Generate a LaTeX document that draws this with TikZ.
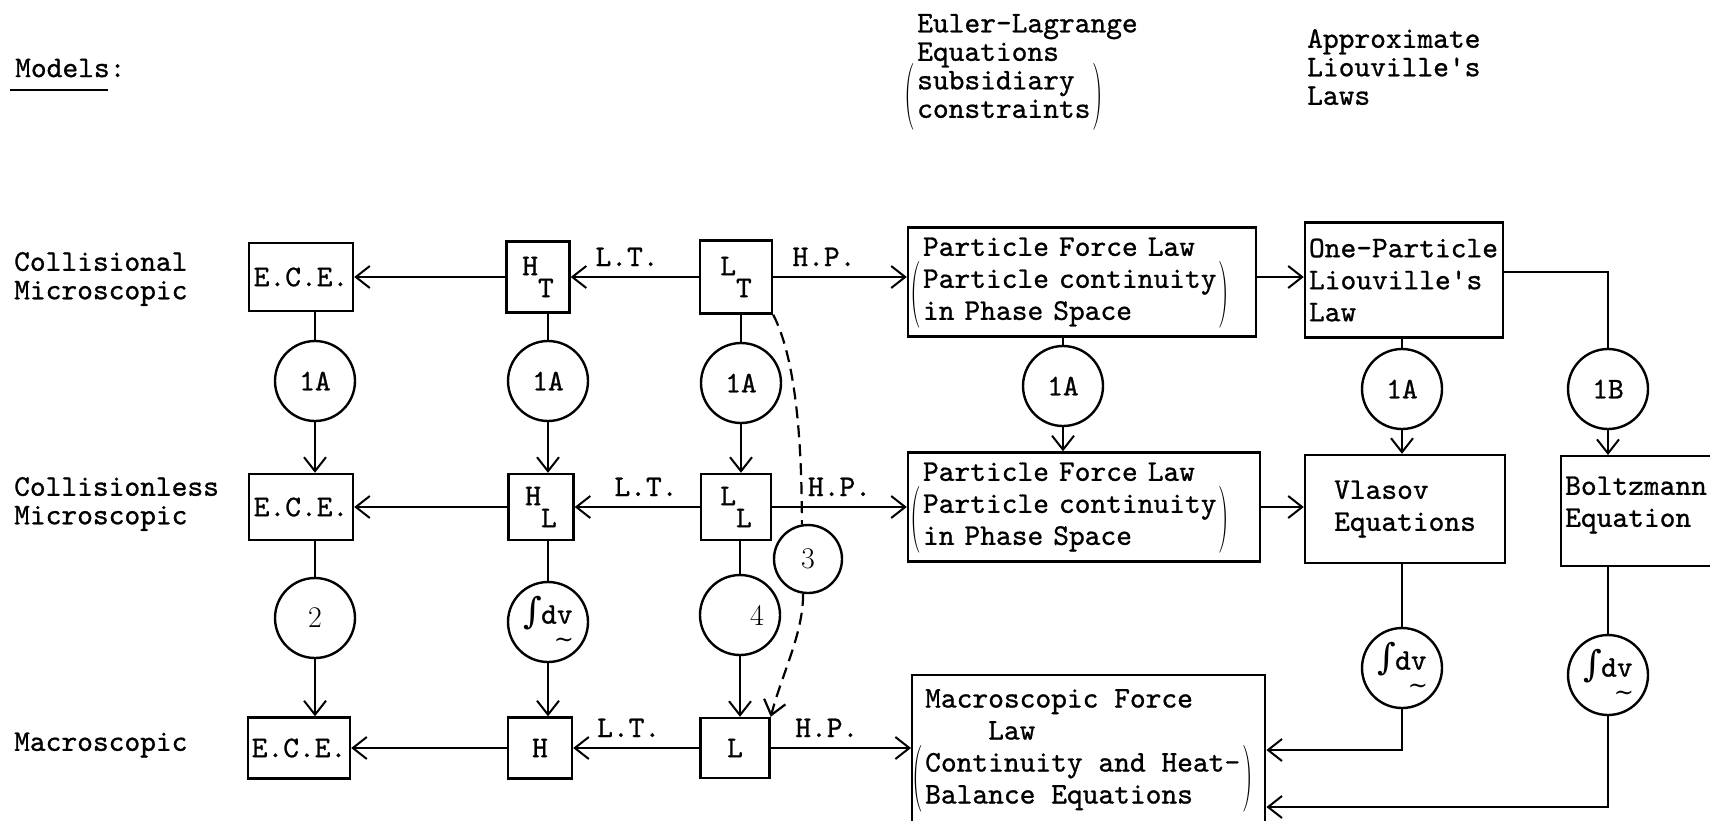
\documentclass[tikz,border=0pt]{standalone}
\usepackage{fontspec}
\usepackage{graphicx}
\usetikzlibrary{arrows.meta,calc}
\setmonofont{lmmono10-regular.otf}[FakeBold=0.9]
\newfontfamily\symfam{DejaVu Serif}
\newcommand{\tallopen}[1]{\leavevmode\llap{\smash{\raisebox{#1}{\scalebox{1}[2.23]{\rmfamily(}}}\kern2pt}}
\newcommand{\tallclose}[1]{\rlap{\kern2pt\smash{\raisebox{#1}{\scalebox{1}[2.23]{\rmfamily)}}}}}
\newcommand{\intdv}{{\symfam\fontsize{36}{36}\selectfont ∫}\kern-1pt d\rlap{\raisebox{-24pt}{\kern-3pt{\symfam\fontsize{24}{24}\selectfont ∼}}}v}
\tikzset{
  base/.style={font=\fontsize{30}{32}\selectfont\ttfamily},
  tight/.style={font=\fontsize{30}{28.5}\selectfont\ttfamily},
  box/.style={draw, line width=2.4pt, inner sep=0pt, base},
  circ/.style={draw, circle, line width=2.4pt, minimum size=80pt, inner sep=0pt, base},
  lab/.style={base, inner sep=0pt, align=left},
  tag/.style={base, inner sep=0pt},
  ln/.style={line width=2pt},
  arr/.style={line width=2pt, -{Straight Barb[length=14pt,width=22pt]}},
  dsh/.style={line width=2.2pt, dash pattern=on 12pt off 7pt}
}
\begin{document}
\begin{tikzpicture}[x=1pt,y=-1pt]
\useasboundingbox (0,0) rectangle (1710,820);

% left labels
\node[lab, anchor=west] (models) at (15,68) {Models:};
\draw[line width=2pt] (10,90) -- (108,90);
\node[lab, tight, anchor=west] (r1) at (14,279) {Collisional\\Microscopic};
\node[lab, tight, anchor=west] (r2) at (14,504) {Collisionless\\Microscopic};
\node[lab, anchor=west] (r3) at (14,745) {Macroscopic};

% headers
\node[lab, tight, anchor=west] (el) at (917,66) {Euler-Lagrange\\Equations\\\tallopen{-24pt}subsidiary\\constraints\tallclose{4pt}};
\node[lab, tight, anchor=west] (al) at (1307,67) {Approximate\\Liouville's\\Laws};

% row 1
\node[box, minimum width=104, minimum height=68] (ece1) at (301,277) {E.C.E.};
\node[box, minimum width=63, minimum height=71] (ht) at (538,277) {H\raisebox{-22pt}{T}};
\node[box, minimum width=72, minimum height=73] (lt) at (736,277) {L\raisebox{-22pt}{T}};
\node[box, minimum width=348, minimum height=109, text width=318pt, inner xsep=15pt, align=left] (pf1) at (1082,282)
  {Particle Force Law\\\tallopen{-24pt}Particle continuity\tallclose{-24pt}\\in Phase Space};
\node[box, minimum width=198, minimum height=115, text width=190pt, inner xsep=4pt, align=left] (op) at (1404,280)
  {One-Particle\\Liouville's\\Law};

% row 2
\node[box, minimum width=104, minimum height=66] (ece2) at (301,507) {E.C.E.};
\node[box, minimum width=65, minimum height=66] (hl) at (541,507) {H\raisebox{-22pt}{L}};
\node[box, minimum width=70, minimum height=66] (ll) at (736,507) {L\raisebox{-22pt}{L}};
\node[box, minimum width=352, minimum height=109, text width=322pt, inner xsep=15pt, align=left] (pf2) at (1084,507)
  {Particle Force Law\\\tallopen{-24pt}Particle continuity\tallclose{-24pt}\\in Phase Space};
\node[box, minimum width=200, minimum height=108, align=left] (vl) at (1405,509) {Vlasov\\Equations};
\node[box, anchor=north west, minimum width=200, minimum height=110] (bz) at (1560,455) {};
\node[lab, anchor=west] (bztxt) at (1565,505) {Boltzmann\\Equation};

% row 3
\node[box, minimum width=102, minimum height=61] (ece3) at (299,748) {E.C.E.};
\node[box, minimum width=64, minimum height=61] (h) at (540,748) {H};
\node[box, minimum width=69, minimum height=60] (l) at (735,748) {L};
\node[box, anchor=north west, minimum width=353, minimum height=220] (mac) at (911,674) {};
\node[lab, anchor=north west] (mactxt) at (925,689)
  {Macroscopic Force\\\phantom{Macr}Law\\\tallopen{-24pt}Continuity and Heat-\tallclose{-24pt}\\Balance Equations};
\coordinate (m1) at ($(mac.north east)+(0,76)$);
\coordinate (m2) at ($(mac.north east)+(0,133)$);

% circles
\node[circ] (a1) at (315,381) {1A};
\node[circ] (a2) at (548,381) {1A};
\node[circ] (a3) at (741,383) {1A};
\node[circ] (a4) at (1063,386) {1A};
\node[circ] (a5) at (1402,389) {1A};
\node[circ] (b1) at (1608,389) {1B};
\node[circ] (n2) at (315,618) {\rmfamily 2};
\node[circ] (i1) at (548,622) {\intdv};
\node[circ] (n4) at (740,615) {\rmfamily\hspace*{34pt}4};
\node[circ, minimum size=68pt] (n3) at (808,559) {\rmfamily 3};
\node[circ] (i2) at (1402,668) {\intdv};
\node[circ] (i3) at (1608,675) {\intdv};

% row 1 connectors
\draw[arr] (ht.west) -- (ece1.east);
\draw[arr] (lt.west) -- node[tag, above=10pt, pos=0.56] {L.T.} (ht.east);
\draw[arr] (lt.east) -- node[tag, above=10pt, pos=0.38] {H.P.} (pf1.west |- lt.east);
\draw[arr] (pf1.east |- lt.east) -- (op.west |- lt.east);
\draw[ln] ([yshift=8pt]op.east) -| (b1.north);

% row 1 -> row 2
\draw[ln] (a1.north |- ece1.south) -- (a1.north);
\draw[arr] (a1.south) -- (a1.south |- ece2.north);
\draw[ln] (a2.north |- ht.south) -- (a2.north);
\draw[arr] (a2.south) -- (a2.south |- hl.north);
\draw[ln] (a3.north |- lt.south) -- (a3.north);
\draw[arr] (a3.south) -- (a3.south |- ll.north);
\draw[ln] (a4.north |- pf1.south) -- (a4.north);
\draw[arr] (a4.south) -- (a4.south |- pf2.north);
\draw[ln] (a5.north |- op.south) -- (a5.north);
\draw[arr] (a5.south) -- (a5.south |- vl.north);
\draw[arr] (b1.south) -- (b1.south |- bz.north);

% row 2 connectors
\draw[arr] (hl.west) -- (ece2.east);
\draw[arr] (ll.west) -- node[tag, above=10pt, pos=0.43] {L.T.} (hl.east);
\draw[arr] (ll.east) -- node[tag, above=10pt, pos=0.5] {H.P.} (pf2.west |- ll.east);
\draw[arr] (pf2.east |- ll.east) -- (vl.west |- ll.east);

% row 2 -> row 3
\draw[ln] (n2.north |- ece2.south) -- (n2.north);
\draw[arr] (n2.south) -- (n2.south |- ece3.north);
\draw[ln] (i1.north |- hl.south) -- (i1.north);
\draw[arr] (i1.south) -- (i1.south |- h.north);
\draw[ln] (n4.north |- ll.south) -- (n4.north);
\draw[arr] (n4.south) -- (n4.south |- l.north);
\draw[ln] (i2.north |- vl.south) -- (i2.north);
\draw[arr] (i2.south) |- (m1);
\draw[ln] (i3.north |- bz.south) -- (i3.north);
\draw[arr] (i3.south) |- (m2);

% dashed path 3
\draw[dsh] (lt.south east) .. controls +(18,35) and +(0,-110) .. (n3.100);
\draw[dsh, -{Straight Barb[length=14pt,width=22pt]}] (n3.262) .. controls +(0,40) and +(12,-45) .. (l.north east);

% row 3 connectors
\draw[arr] (h.west) -- (ece3.east);
\draw[arr] (l.west) -- node[tag, above=10pt, pos=0.56] {L.T.} (h.east);
\draw[arr] (l.east) -- node[tag, above=10pt, pos=0.4] {H.P.} (mac.west |- l.east);
\end{tikzpicture}
\end{document}
